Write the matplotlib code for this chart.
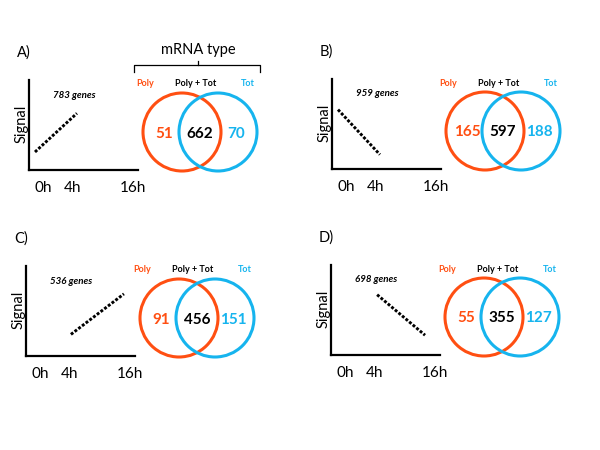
import matplotlib.pyplot as plt
from matplotlib.patches import Circle

plt.rcParams['font.family'] = ['Lato', 'DejaVu Sans']

# data
panels = ["A)", "B)", "C)", "D)"]
genes = [783, 959, 536, 698]
poly_only = [51, 165, 91, 55]
both = [662, 597, 456, 355]
tot_only = [70, 188, 151, 127]
# trend line ends (x in time slots: 0h=0, 4h=1, 16h=3; y signal 0..1)
trend_x = [(-0.27, 1.13), (-0.27, 1.13), (1.03, 2.8), (1.07, 2.67)]
trend_y = [(0.2, 0.63), (0.66, 0.16), (0.24, 0.69), (0.67, 0.22)]
tick_pos = [0, 1, 3]
tick_lab = ["0h", "4h", "16h"]

# layout: signal-axis origin of each panel, in pixels
origins = [(29, 170), (332, 169), (26, 356), (331, 355)]

orange = "#FF4F12"
blue = "#16B4EE"

W, H = 600, 450
fig = plt.figure(figsize=(6, 4.5), dpi=100)
ov = fig.add_axes([0, 0, 1, 1])
ov.set_xlim(0, W)
ov.set_ylim(H, 0)
ov.axis("off")

aw, ah = 109, 90
for i in range(4):
    ox, oy = origins[i]
    ax = fig.add_axes([ox / W, 1 - oy / H, aw / W, ah / H])
    ax.patch.set_alpha(0)
    ax.plot(trend_x[i], trend_y[i], color="black", lw=2.1,
            linestyle=(0, (1, 0.6)))
    ax.set_xlim(-0.47, 3.17)
    ax.set_ylim(0, 1)
    for s in ["top", "right"]:
        ax.spines[s].set_visible(False)
    for s in ["left", "bottom"]:
        ax.spines[s].set_linewidth(1.6)
    ax.set_yticks([])
    ax.set_xticks(tick_pos)
    ax.set_xticklabels(tick_lab, fontsize=11)
    ax.tick_params(axis="x", length=0, pad=8)

    ov.text(ox - 12, oy - 117, panels[i], fontsize=10.5, ha="left", va="center")
    ov.text(ox - 7.5, oy - 46, "Signal", fontsize=10.5, rotation=90,
            ha="center", va="center")
    ov.text(ox + 45, oy - 75, f"{genes[i]} genes", fontsize=7,
            style="italic", fontweight="bold", ha="center", va="center")

    # venn
    cx, cy = ox + 171, oy - 38
    ov.add_patch(Circle((cx - 18, cy), 39, fill=False, ec=orange, lw=2.2))
    ov.add_patch(Circle((cx + 18, cy), 39, fill=False, ec=blue, lw=2.2))
    ov.text(cx - 55, cy - 48, "Poly", color=orange, fontsize=6.5,
            fontweight="bold", ha="center", va="center")
    ov.text(cx - 4, cy - 48, "Poly + Tot", color="black", fontsize=6.5,
            fontweight="bold", ha="center", va="center")
    ov.text(cx + 48, cy - 48, "Tot", color=blue, fontsize=6.5,
            fontweight="bold", ha="center", va="center")
    ov.text(cx - 36, cy + 1.5, str(poly_only[i]), color=orange, fontsize=11,
            fontweight="bold", ha="center", va="center")
    ov.text(cx, cy + 1.5, str(both[i]), color="black", fontsize=11,
            fontweight="bold", ha="center", va="center")
    ov.text(cx + 36, cy + 1.5, str(tot_only[i]), color=blue, fontsize=11,
            fontweight="bold", ha="center", va="center")

# bracket over panel A
ov.plot([134, 134, 260, 260], [72, 65, 65, 72], color="black", lw=0.9)
ov.plot([198, 198], [65, 61], color="black", lw=0.9)
ov.text(198, 50, "mRNA type", fontsize=10.5, ha="center", va="center")

fig.savefig("out.png", dpi=100)
